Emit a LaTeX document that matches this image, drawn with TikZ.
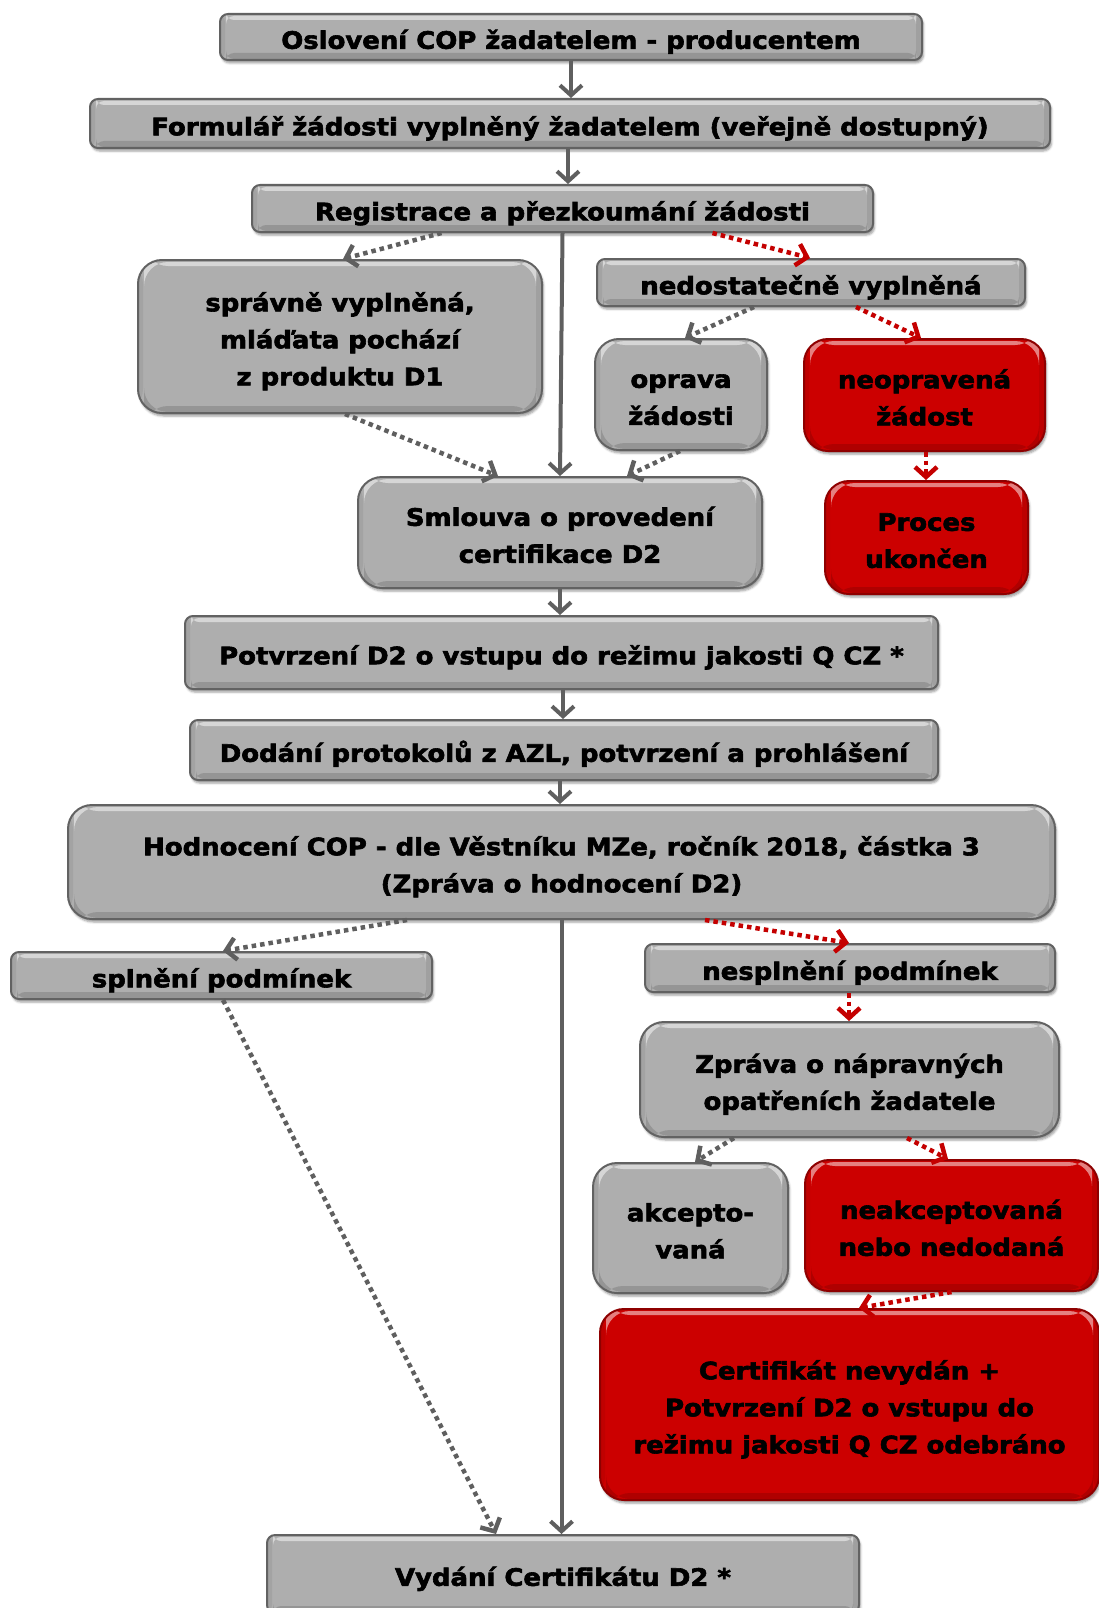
\documentclass[tikz,border=0pt]{standalone}
\usepackage{fontspec}
\setmainfont{DejaVu Sans}[BoldFont={DejaVu Sans Bold}, BoldFeatures={FakeBold=2.5,FakeStretch=1.08}]
\usetikzlibrary{arrows.meta,shadows.blur}
\definecolor{boxgray}{HTML}{AEAEAE}
\definecolor{edgegray}{HTML}{626262}
\definecolor{boxred}{HTML}{CC0000}
\definecolor{edgered}{HTML}{8E0000}
\definecolor{linegray}{HTML}{5F5F5F}
\definecolor{linered}{HTML}{C40000}
\newcommand{\lns}[1]{\begin{tabular}{@{}c@{}}#1\end{tabular}}
\begin{document}
\begin{tikzpicture}[x=1pt,y=-1pt,
 base/.style={rectangle, font=\fontsize{24}{37}\selectfont\bfseries, inner sep=0pt, line width=2pt,
   text height=21.2pt, text depth=0pt,
   blur shadow={shadow xshift=1.5pt,shadow yshift=-3pt,shadow opacity=40,shadow blur steps=4},
   path picture={\fill[white,opacity=0.5] ([xshift=6pt,yshift=-2pt]path picture bounding box.north west) rectangle ([xshift=-6pt,yshift=-6pt]path picture bounding box.north east);
   \fill[black,opacity=0.14] ([xshift=6pt,yshift=7pt]path picture bounding box.south west) rectangle ([xshift=-6pt,yshift=1pt]path picture bounding box.south east);
   \fill[black,opacity=0.08] ([xshift=-6pt]path picture bounding box.north east) rectangle (path picture bounding box.south east);
   \fill[black,opacity=0.06] ([xshift=5pt]path picture bounding box.north west) rectangle (path picture bounding box.south west);}},
 gbar/.style={base, rounded corners=8pt, fill=boxgray, draw=edgegray},
 gbox/.style={base, rounded corners=24pt, fill=boxgray, draw=edgegray},
 rbox/.style={base, rounded corners=24pt, fill=boxred, draw=edgered},
 solidarr/.style={draw=linegray, line width=4pt, -{Straight Barb[length=10pt,width=22pt]}},
 gdot/.style={draw=linegray, line width=4.5pt, dash pattern=on 4.5pt off 4pt, -{Straight Barb[length=10pt,width=22pt]}},
 rdot/.style={draw=linered, line width=4.5pt, dash pattern=on 4.5pt off 4pt, -{Straight Barb[length=10pt,width=22pt]}},
]
\useasboundingbox (0,0) rectangle (1099,1608);
\begin{scope}
\clip (0,0) rectangle (1099,1608);
\node[gbar, minimum width=702pt, minimum height=46pt] (n1) at (571,37) {\lns{Oslovení COP žadatelem - producentem}};
\node[gbar, minimum width=960pt, minimum height=49pt] (n2) at (570,123.5) {\lns{Formulář žádosti vyplněný žadatelem (veřejně dostupný)}};
\node[gbar, minimum width=621pt, minimum height=47pt] (n3) at (562.5,208.5) {\lns{Registrace a přezkoumání žádosti}};
\node[gbox, minimum width=404pt, minimum height=153pt] (n4) at (340,336.5) {\lns{správně vyplněná,\\ mláďata pochází\\ z produktu D1}};
\node[gbar, minimum width=428pt, minimum height=47pt] (n5) at (811,282.5) {\lns{nedostatečně vyplněná}};
\node[gbox, minimum width=172pt, minimum height=111pt] (n6) at (681,394.5) {\lns{oprava\\ žádosti}};
\node[rbox, minimum width=241pt, minimum height=112pt] (n7) at (924.5,395) {\lns{neopravená\\ žádost}};
\node[rbox, minimum width=203pt, minimum height=113pt] (n8) at (926.5,537.5) {\lns{Proces\\ ukončen}};
\node[gbox, minimum width=404pt, minimum height=111pt] (n9) at (560,532.5) {\lns{Smlouva o provedení\\ certifikace D2}};
\node[gbar, minimum width=753pt, minimum height=73pt] (n10) at (561.5,652.5) {\lns{Potvrzení D2 o vstupu do režimu jakosti Q CZ *}};
\node[gbar, minimum width=748pt, minimum height=60pt] (n11) at (564,750) {\lns{Dodání protokolů z AZL, potvrzení a prohlášení}};
\node[gbox, minimum width=987pt, minimum height=114pt] (n12) at (561.5,862) {\lns{Hodnocení COP - dle Věstníku MZe, ročník 2018, částka 3\\ (Zpráva o hodnocení D2)}};
\node[gbar, minimum width=421pt, minimum height=47pt] (n13) at (221.5,975.5) {\lns{splnění podmínek}};
\node[gbar, minimum width=410pt, minimum height=48pt] (n14) at (850,968) {\lns{nesplnění podmínek}};
\node[gbox, minimum width=419pt, minimum height=115pt] (n15) at (849.5,1079.5) {\lns{Zpráva o nápravných\\ opatřeních žadatele}};
\node[gbox, minimum width=195pt, minimum height=130pt] (n16) at (690.5,1228) {\lns{akcepto-\\ vaná}};
\node[rbox, minimum width=293pt, minimum height=131pt] (n17) at (951.5,1225.5) {\lns{neakceptovaná\\ nebo nedodaná}};
\node[rbox, minimum width=499pt, minimum height=191pt] (n18) at (849.5,1404.5) {\lns{Certifikát nevydán +\\ Potvrzení D2 o vstupu do\\ režimu jakosti Q CZ odebráno}};
\node[gbar, minimum width=592pt, minimum height=78pt] (n19) at (563,1574) {\lns{Vydání Certifikátu D2 *}};

\draw[solidarr] (n1.south) -- (n1.south |- n2.north);
\draw[solidarr] ([xshift=-2pt]n2.south) -- ([xshift=-2pt]n2.south |- n3.north);
\draw[gdot] ([xshift=-121pt]n3.south) -- ([xshift=3pt]n4.north);
\draw[solidarr] (n3.south) -- (n9.north);
\draw[rdot] ([xshift=150pt]n3.south) -- ([xshift=-1pt]n5.north);
\draw[gdot] ([xshift=-57pt]n5.south) -- ([xshift=4pt]n6.north);
\draw[rdot] ([xshift=45pt]n5.south) -- ([xshift=-3.5pt]n7.north);
\draw[rdot] ([xshift=1.5pt]n7.south) -- ([xshift=1.5pt]n7.south |- n8.north);
\draw[gdot] ([xshift=5pt]n4.south) -- ([xshift=-62pt]n9.north);
\draw[gdot] ([xshift=-1pt]n6.south) -- ([xshift=67pt]n9.north);
\draw[solidarr] (n9.south) -- (n9.south |- n10.north);
\draw[solidarr] ([xshift=1.5pt]n10.south) -- ([xshift=1.5pt]n10.south |- n11.north);
\draw[solidarr] ([xshift=-4pt]n11.south) -- ([xshift=-4pt]n11.south |- n12.north);
\draw[gdot] ([xshift=-154.5pt]n12.south) -- ([xshift=1.5pt]n13.north);
\draw[solidarr] (n12.south) -- (n12.south |- n19.north);
\draw[rdot] ([xshift=143.5pt]n12.south) -- ([xshift=-1pt]n14.north);
\draw[rdot] ([xshift=-1pt]n14.south) -- ([xshift=-1pt]n14.south |- n15.north);
\draw[gdot] ([xshift=-115.5pt]n15.south) -- ([xshift=4.5pt]n16.north);
\draw[rdot] ([xshift=57.5pt]n15.south) -- ([xshift=-3.5pt]n17.north);
\draw[rdot] (n17.south) -- ([xshift=9.5pt]n18.north);
\draw[gdot] ([xshift=1.5pt]n13.south) -- ([xshift=-67pt]n19.north);
\end{scope}
\end{tikzpicture}
\end{document}
